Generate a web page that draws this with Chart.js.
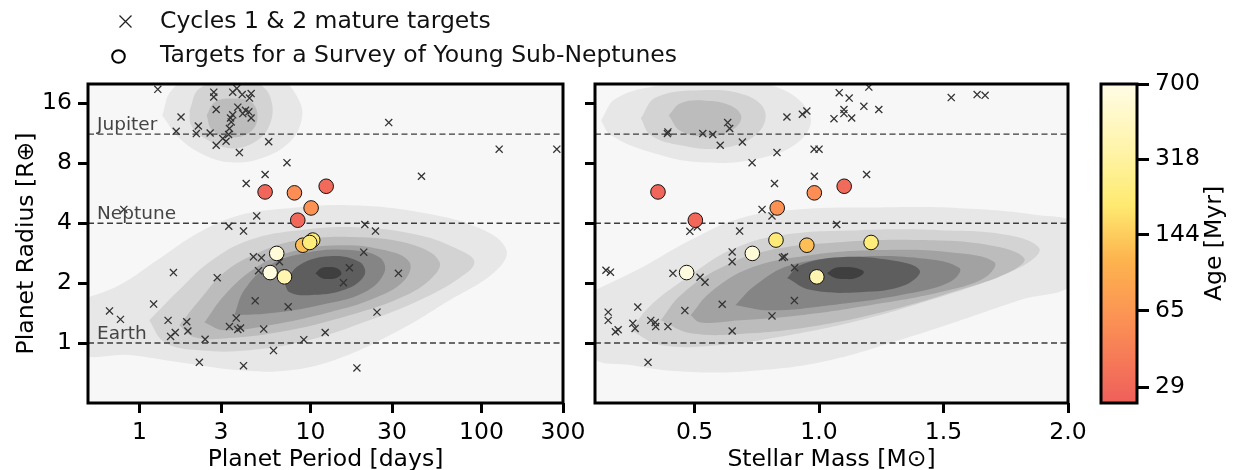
<!DOCTYPE html>
<html><head><meta charset="utf-8">
<script src="https://cdn.jsdelivr.net/npm/chart.js@4.4.0/dist/chart.umd.min.js"></script>
<style>
html,body{margin:0;padding:0;background:#fff;width:1233px;height:470px;overflow:hidden;font-family:"DejaVu Sans",sans-serif;}
canvas{position:absolute;top:0;}
.leg{position:absolute;left:160px;font-size:23.5px;color:#111;white-space:nowrap;line-height:1;}
</style></head><body>
<canvas id="c1" width="600" height="470" style="left:0px"></canvas>
<canvas id="c2" width="585" height="470" style="left:520px"></canvas>
<canvas id="c3" width="153" height="470" style="left:1080px"></canvas>
<svg style="position:absolute;left:118px;top:14px" width="15" height="15"><path d="M1.5 1.5L13.5 13.5M13.5 1.5L1.5 13.5" stroke="#222" stroke-width="1.3"/></svg>
<div class="leg" style="top:9px">Cycles 1 &amp; 2 mature targets</div>
<svg style="position:absolute;left:110px;top:48px" width="17" height="17"><circle cx="8.5" cy="8.5" r="6.3" fill="#fff" stroke="#000" stroke-width="2"/></svg>
<div class="leg" style="top:43px">Targets for a Survey of Young Sub-Neptunes</div>
<script>
// ---------------- DATA ----------------
const radiusTicks = [1, 2, 4, 8, 16];
const periodTicks = [1, 3, 10, 30, 100, 300];
const massTicks = [0.5, 1.0, 1.5, 2.0];
const ageTicks = [29, 65, 144, 318, 700];
const refLineValues = [1, 4, 11.2];
const refLineNames = ['Earth', 'Neptune', 'Jupiter'];

// Cycles 1 & 2 mature targets (period panel)
const matureLeftPeriod = [1.28,2.72,2.72,3.51,3.71,3.99,4.50,4.40,2.81,3.76,4.17,4.36,4.02,3.51,4.50,3.41,3.44,3.36,1.75,2.21,2.15,1.64,2.59,3.32,3.07,3.21,2.81,3.84,5.70,7.29,5.43,4.21,0.81,4.85,3.33,4.06,28.7,44.6,127,276,20.8,24.0,20.5,4.64,5.17,6.59,4.97,1.58,2.85,16.9,15.6,32.7,0.668,0.774,1.21,4.75,7.41,24.5,1.47,1.89,1.92,1.52,1.62,2.42,2.24,4.06,3.68,3.36,3.76,3.90,5.33,6.08,12.2,9.14,18.7];
const matureLeftRadius = [18.8,18.2,17.2,18.2,19.0,17.7,17.9,17.0,14.9,15.3,14.75,14.5,14.2,14.0,13.5,13.5,12.9,11.95,13.66,12.3,11.27,11.58,11.35,11.15,10.64,10.32,9.85,9.05,10.26,8.05,7.02,6.33,4.69,4.35,3.86,3.65,12.8,6.88,9.41,9.41,3.94,3.65,2.86,2.71,2.68,2.56,2.31,2.26,2.13,2.39,2.01,2.24,1.45,1.315,1.57,1.63,1.52,1.43,1.30,1.28,1.15,1.08,1.13,1.045,0.80,0.77,1.335,1.21,1.17,1.19,1.175,0.917,1.13,1.04,0.75];
// Cycles 1 & 2 mature targets (stellar mass panel)
const matureRightMass = [0.393,0.391,0.533,0.573,0.633,0.641,0.603,0.692,0.731,0.831,0.871,0.933,0.951,0.980,1.000,0.981,0.821,0.771,0.811,0.481,0.511,0.681,0.651,0.651,0.853,0.861,0.902,0.144,0.162,0.413,0.522,0.542,1.081,1.121,1.200,1.100,1.100,1.180,1.240,1.060,1.131,1.531,1.635,1.667,1.191,1.071,0.272,0.461,0.611,0.901,0.811,0.651,0.153,0.153,0.182,0.193,0.252,0.261,0.324,0.342,0.344,0.393,0.313];
const matureRightRadius = [11.49,11.27,11.27,11.15,12.8,11.95,9.85,10.23,8.05,9.05,13.66,14.09,14.64,9.41,9.41,6.88,6.33,4.69,4.35,3.64,3.83,3.65,2.87,2.56,2.69,2.71,2.39,2.32,2.27,2.24,2.14,2.02,18.1,17.0,19.3,14.88,14.2,15.45,14.9,13.4,13.5,17.09,17.7,17.55,7.02,3.94,1.516,1.456,1.566,1.634,1.369,1.15,1.43,1.30,1.14,1.166,1.256,1.185,1.30,1.27,1.21,1.21,0.80];

// Young sub-Neptune survey targets
const youngPeriod = [5.43, 8.06, 12.36, 10.09, 8.43, 9.02, 10.31, 9.9, 6.35, 5.81, 7.05];
const youngMass   = [0.353, 0.981, 1.101, 0.832, 0.503, 0.951, 0.827, 1.209, 0.732, 0.468, 0.991];
const youngRadius = [5.74, 5.68, 6.13, 4.77, 4.14, 3.10, 3.29, 3.20, 2.82, 2.26, 2.15];
const youngAge    = [28, 55, 30, 60, 29, 125, 210, 220, 600, 640, 380];

// Age colour scale
const ageMin = 24.6, ageMax = 700;
const cmapPos = [0.0, 0.25, 0.45, 0.62, 0.80, 1.0];
const cmapCol = ['#ef5f5b', '#fb8f55', '#fdb44e', '#feea70', '#fff4ab', '#fffce6'];

// KDE density contours (outer -> inner), period panel, sub-Neptune/super-Earth blob
const kdePeriodLow = [
 [[0.45,1.64],[0.76,1.95],[1.31,2.66],[2.24,3.60],[3.84,4.39],[7.54,4.76],[16.9,4.92],[43.4,4.54],[97.6,3.77],[140,2.93],[119,2.27],[65,1.64],[33.1,1.16],[14.8,0.84],[7.54,0.73],[3.84,0.73],[1.71,0.80],[0.87,0.87],[0.45,0.90]],
 [[1.14,1.30],[1.71,1.85],[2.57,2.55],[4.40,3.29],[8.6,3.69],[19.4,3.81],[43.4,3.48],[74.5,2.93],[91,2.55],[74.5,2.12],[43.4,1.64],[22.1,1.30],[9.86,1.035],[4.40,0.92],[2.24,0.92],[1.40,1.01]],
 [[1.71,1.23],[2.24,1.64],[3.14,2.27],[5.03,2.86],[8.6,3.29],[19.4,3.40],[40.5,3.10],[56.9,2.55],[49.7,2.07],[33.1,1.68],[16.9,1.38],[7.54,1.16],[3.36,1.06],[2.10,1.07]],
 [[2.40,1.27],[3.14,1.74],[4.71,2.37],[7.54,2.86],[14.8,3.10],[27.1,2.93],[37.9,2.55],[35.5,2.07],[23.6,1.68],[12.9,1.43],[5.76,1.23],[3.14,1.16]],
 [[3.59,1.38],[4.11,1.85],[5.76,2.46],[9.86,2.86],[16.9,2.93],[25.3,2.70],[27.1,2.27],[20.7,1.80],[11.3,1.55],[5.76,1.41]],
 [[7.05,2.0],[8.6,2.46],[12.9,2.73],[19.4,2.55],[20.7,2.19],[15.8,1.85],[9.86,1.74],[7.54,1.80]],
 [[10.7,2.24],[11.6,2.38],[12.7,2.41],[14.2,2.38],[15.2,2.24],[14.2,2.12],[12.7,2.095],[11.6,2.12]]
];
// period panel, giant-planet blob
const kdePeriodHigh = [
 [[1.36,13.9],[1.54,18.6],[2.24,22.4],[3.84,23.4],[6.59,21.4],[8.6,16.5],[8.86,13.1],[7.54,10.2],[5.17,8.48],[3.45,8.09],[2.40,8.78],[1.71,10.7]],
 [[1.96,14.7],[2.24,19.0],[3.36,20.9],[5.03,19.9],[5.91,16.5],[5.76,12.4],[4.71,10.2],[3.36,9.51],[2.40,10.7],[2.01,12.4]],
 [[2.47,13.9],[2.75,16.2],[3.45,16.9],[4.52,16.2],[4.90,13.45],[4.40,11.4],[3.45,10.8],[2.67,11.7]]
];
// stellar-mass panel, small-planet blob
const kdeMassLow = [
 [[0.084,1.80],[0.284,2.38],[0.484,3.29],[0.684,4.24],[0.924,4.70],[1.244,4.80],[1.564,4.76],[1.884,4.39],[2.024,3.91],[2.024,2.02],[1.804,1.64],[1.536,1.26],[1.324,1.035],[1.044,0.82],[0.764,0.73],[0.484,0.715],[0.244,0.775],[0.084,0.87]],
 [[0.244,1.16],[0.324,1.55],[0.484,2.19],[0.644,2.93],[0.844,3.48],[1.164,3.69],[1.484,3.69],[1.764,3.48],[1.884,3.0],[1.844,2.55],[1.684,2.07],[1.444,1.64],[1.164,1.30],[0.884,1.097],[0.604,0.977],[0.364,0.977]],
 [[0.364,1.30],[0.444,1.74],[0.604,2.38],[0.804,2.93],[1.084,3.21],[1.404,3.29],[1.684,3.10],[1.824,2.67],[1.764,2.27],[1.564,1.85],[1.284,1.46],[1.004,1.23],[0.724,1.12],[0.484,1.12]],
 [[0.484,1.38],[0.564,1.80],[0.724,2.38],[0.964,2.76],[1.244,2.93],[1.524,2.86],[1.704,2.55],[1.664,2.12],[1.484,1.80],[1.204,1.55],[0.924,1.38],[0.684,1.30],[0.524,1.27]],
 [[0.664,1.55],[0.744,1.95],[0.884,2.46],[1.124,2.70],[1.404,2.67],[1.564,2.38],[1.524,2.02],[1.324,1.74],[1.044,1.55],[0.804,1.46]],
 [[0.872,2.12],[0.924,2.46],[1.084,2.70],[1.284,2.61],[1.404,2.32],[1.344,1.95],[1.164,1.80],[0.964,1.85]],
 [[1.032,2.24],[1.064,2.38],[1.104,2.41],[1.148,2.38],[1.18,2.27],[1.148,2.12],[1.108,2.095],[1.064,2.12]]
];
// stellar-mass panel, giant-planet blob
const kdeMassHigh = [
 [[0.124,13.1],[0.184,16.9],[0.364,19.7],[0.604,20.9],[0.844,19.0],[0.964,13.9],[0.924,10.4],[0.764,8.48],[0.524,8.09],[0.324,9.08],[0.164,11.06]],
 [[0.284,13.45],[0.344,17.1],[0.524,18.6],[0.704,17.6],[0.784,14.4],[0.744,11.06],[0.604,9.51],[0.444,9.85],[0.324,11.06]],
 [[0.396,13.9],[0.444,16.0],[0.544,16.5],[0.644,15.6],[0.688,13.6],[0.644,11.6],[0.544,10.9],[0.444,11.6]]
];
const kdeShades = ['#e7e7e7', '#d3d3d3', '#bcbcbc', '#a2a2a2', '#858585', '#5e5e5e', '#3f3f3f'];

// ---------------- HELPERS ----------------
const FS = 23.5;
Chart.defaults.font.family = "'DejaVu Sans', sans-serif";
Chart.defaults.color = '#000';
Chart.defaults.animation = false;

function hexToRgb(h){ return [parseInt(h.slice(1,3),16), parseInt(h.slice(3,5),16), parseInt(h.slice(5,7),16)]; }
function ageColor(age){
  let t = Math.log(age/ageMin)/Math.log(ageMax/ageMin);
  t = Math.max(0, Math.min(1, t));
  for (let i = 0; i < cmapPos.length-1; i++){
    if (t <= cmapPos[i+1]){
      const f = (t - cmapPos[i])/(cmapPos[i+1]-cmapPos[i]);
      const a = hexToRgb(cmapCol[i]), b = hexToRgb(cmapCol[i+1]);
      return 'rgb(' + a.map((v,k)=>Math.round(v + (b[k]-v)*f)).join(',') + ')';
    }
  }
  return cmapCol[cmapCol.length-1];
}
function contourSets(levels, baseOrder){
  return levels.map((pts, i) => ({
    type: 'line',
    data: pts.concat([pts[0]]).map(p => ({x: p[0], y: p[1]})),
    showLine: true, fill: 'shape', tension: 0.4,
    backgroundColor: kdeShades[i], borderColor: 'rgba(0,0,0,0)', borderWidth: 0,
    pointRadius: 0, order: baseOrder - i
  }));
}
function refLineSets(x0, x1){
  return refLineValues.map(v => ({
    type: 'line', data: [{x: x0, y: v}, {x: x1, y: v}],
    borderColor: '#3c3c3c', borderWidth: 1.4, borderDash: [6, 3.5],
    pointRadius: 0, fill: false, order: 5
  }));
}
function crossSet(xs, ys){
  return { type: 'scatter', data: xs.map((x, i) => ({x, y: ys[i]})),
    pointStyle: 'crossRot', pointRadius: 5, borderColor: '#333', borderWidth: 1.3, order: 2 };
}
function youngSet(xs){
  return { type: 'scatter', data: xs.map((x, i) => ({x, y: youngRadius[i]})),
    pointStyle: 'circle', pointRadius: 7.3, borderColor: '#111', borderWidth: 1,
    backgroundColor: youngAge.map(ageColor), order: 1 };
}
const gridOpts = {display: true, drawOnChartArea: false, drawTicks: true, tickLength: 10, tickWidth: 3, tickColor: '#000'};
function radiusAxis(showLabels, width){
  return {
    type: 'logarithmic', min: 0.5, max: 20,
    afterBuildTicks: s => { s.ticks = radiusTicks.map(v => ({value: v})); },
    ticks: {callback: v => showLabels ? String(v) : '', font: {size: FS}, color: '#000', padding: 6, autoSkip: false},
    grid: gridOpts, border: {display: false},
    title: {display: showLabels, text: 'Planet Radius [R\u2295]', font: {size: FS}, color: '#000', padding: {top: 13}},
    afterFit: s => { s.width = width; s.paddingTop = 0; s.paddingBottom = 0; }
  };
}
const bgPlugin = { id: 'bg', beforeDatasetsDraw(c){ const a = c.chartArea, x = c.ctx; x.save(); x.fillStyle = '#f7f7f7'; x.fillRect(a.left, a.top, a.right-a.left, a.bottom-a.top); x.restore(); } };
const framePlugin = { id: 'frame', afterDatasetsDraw(c){ const a = c.chartArea, x = c.ctx; x.save(); x.strokeStyle = '#000'; x.lineWidth = 3; x.strokeRect(a.left, a.top, a.right-a.left, a.bottom-a.top); x.restore(); } };
const refLabelPlugin = { id: 'reflabels', afterDatasetsDraw(c){
  const x = c.ctx, ys = c.scales.y, a = c.chartArea;
  x.save(); x.font = "18.5px 'DejaVu Sans'"; x.fillStyle = '#444'; x.textBaseline = 'alphabetic'; x.textAlign = 'left';
  refLineValues.forEach((v, i) => { x.fillText(refLineNames[i], a.left + 9, ys.getPixelForValue(v) - 4); });
  x.restore(); } };
const xTitleOpts = text => ({display: true, text, font: {size: FS}, color: '#000', padding: {top: 0, bottom: -4}});

// ---------------- LEFT: PERIOD ----------------
new Chart(document.getElementById('c1'), {
  type: 'scatter',
  data: { datasets: [
    youngSet(youngPeriod),
    crossSet(matureLeftPeriod, matureLeftRadius),
    ...refLineSets(0.5, 300),
    ...contourSets(kdePeriodLow, 30),
    ...contourSets(kdePeriodHigh, 40)
  ]},
  options: {
    responsive: false, events: [],
    layout: {padding: {left: 0, right: 37, top: 84, bottom: 0}},
    plugins: {legend: {display: false}, tooltip: {enabled: false}},
    elements: {line: {capBezierPoints: false}},
    scales: {
      x: { type: 'logarithmic', min: 0.5, max: 300,
        afterBuildTicks: s => { s.ticks = periodTicks.map(v => ({value: v})); },
        ticks: {callback: v => String(v), font: {size: FS}, color: '#000', padding: 6, autoSkip: false, maxRotation: 0},
        grid: gridOpts, border: {display: false},
        title: xTitleOpts('Planet Period [days]'),
        afterFit: s => { s.height = 67; s.paddingLeft = 0; s.paddingRight = 0; } },
      y: radiusAxis(true, 88)
    }
  },
  plugins: [bgPlugin, framePlugin, refLabelPlugin]
});

// ---------------- RIGHT: STELLAR MASS ----------------
new Chart(document.getElementById('c2'), {
  type: 'scatter',
  data: { datasets: [
    youngSet(youngMass),
    crossSet(matureRightMass, matureRightRadius),
    ...refLineSets(0.1, 2.0),
    ...contourSets(kdeMassLow, 30),
    ...contourSets(kdeMassHigh, 40)
  ]},
  options: {
    responsive: false, events: [],
    layout: {padding: {left: 0, right: 37, top: 84, bottom: 0}},
    plugins: {legend: {display: false}, tooltip: {enabled: false}},
    elements: {line: {capBezierPoints: false}},
    scales: {
      x: { type: 'linear', min: 0.1, max: 2.0,
        afterBuildTicks: s => { s.ticks = massTicks.map(v => ({value: v})); },
        ticks: {callback: v => Number(v).toFixed(1), font: {size: FS}, color: '#000', padding: 6, autoSkip: false, maxRotation: 0},
        grid: gridOpts, border: {display: false},
        title: xTitleOpts('Stellar Mass [M\u2299]'),
        afterFit: s => { s.height = 67; s.paddingLeft = 0; s.paddingRight = 0; } },
      y: radiusAxis(false, 75)
    }
  },
  plugins: [bgPlugin, framePlugin]
});

// ---------------- COLORBAR ----------------
const cbarPlugin = { id: 'cbar',
  beforeDatasetsDraw(c){
    const a = c.chartArea, x = c.ctx;
    const g = x.createLinearGradient(0, a.bottom, 0, a.top);
    cmapPos.forEach((p, i) => g.addColorStop(p, cmapCol[i]));
    x.save(); x.fillStyle = g; x.fillRect(a.left, a.top, a.right-a.left, a.bottom-a.top); x.restore();
  },
  afterDraw(c){
    const a = c.chartArea, x = c.ctx;
    x.save(); x.strokeStyle = '#000'; x.lineWidth = 3; x.strokeRect(a.left, a.top, a.right-a.left, a.bottom-a.top);
    x.translate(135, (a.top + a.bottom)/2); x.rotate(-Math.PI/2);
    x.font = FS + "px 'DejaVu Sans'"; x.fillStyle = '#000'; x.textAlign = 'center'; x.textBaseline = 'middle';
    x.fillText('Age [Myr]', 0, 0); x.restore();
  } };
new Chart(document.getElementById('c3'), {
  type: 'scatter',
  data: { datasets: [] },
  options: {
    responsive: false, events: [],
    layout: {padding: {left: 21, right: 0, top: 84, bottom: 67}},
    plugins: {legend: {display: false}, tooltip: {enabled: false}},
    scales: {
      x: {display: false, min: 0, max: 1},
      y: { type: 'logarithmic', position: 'right', min: ageMin, max: ageMax,
        afterBuildTicks: s => { s.ticks = ageTicks.map(v => ({value: v})); },
        ticks: {callback: v => String(v), font: {size: FS}, color: '#000', padding: 6, autoSkip: false},
        grid: {display: true, drawOnChartArea: false, drawTicks: true, tickLength: 12, tickWidth: 3, tickColor: '#000'},
        border: {display: false},
        afterFit: s => { s.width = 96; s.paddingTop = 0; s.paddingBottom = 0; } }
    }
  },
  plugins: [cbarPlugin]
});
</script>
</body></html>
